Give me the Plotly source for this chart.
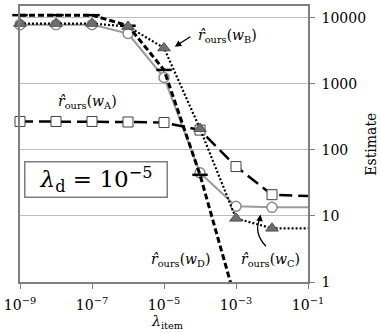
import plotly.graph_objects as go

# ---- data ----
lambda_item = [1e-9, 1e-8, 1e-7, 1e-6, 1e-5, 1e-4, 1e-3, 1e-2, 1e-1]
est_wA = [270, 270, 270, 265, 260, 200, 56, 21, 20]
est_wB = [8200, 8200, 8200, 7400, 3500, 210, 9.2, 6.5, 6.5]
est_wC = [7900, 7900, 7900, 5800, 1250, 45, 14, 13.5, 13.5]
est_wD = [11000, 11000, 11000, 7600, 1630, 42, 0.5, None, None]

x_tickvals = [1e-9, 1e-7, 1e-5, 1e-3, 1e-1]
x_ticktext = ["10<sup>−9</sup>", "10<sup>−7</sup>", "10<sup>−5</sup>", "10<sup>−3</sup>", "10<sup>−1</sup>"]
y_tickvals = [1, 10, 100, 1000, 10000]
y_ticktext = ["1", "10", "100", "1000", "10000"]

FONT = "DejaVu Serif"
W, H = 381, 333
L, R, T, B = 14, 73, 4, 51
PW, PH = W - L - R, H - T - B


def px(x):
    return (x - L) / PW


def py(y):
    return (H - B - y) / PH


fig = go.Figure()

# w_C : gray solid with open circles
fig.add_trace(go.Scatter(
    x=lambda_item, y=est_wC, mode="lines+markers",
    line=dict(color="#9a9a9a", width=2),
    marker=dict(symbol="circle", size=10, color="white",
                line=dict(color="#8c8c8c", width=1.5)),
    cliponaxis=False, showlegend=False))

# w_A : long dash with open squares
fig.add_trace(go.Scatter(
    x=lambda_item, y=est_wA, mode="lines+markers",
    line=dict(color="black", width=2.5, dash="13px,6px"),
    marker=dict(symbol="square", size=10, color="white",
                line=dict(color="#404040", width=1)),
    cliponaxis=False, showlegend=False))

# w_D : short dash with dash markers
fig.add_trace(go.Scatter(
    x=lambda_item, y=est_wD, mode="lines+markers",
    line=dict(color="black", width=3, dash="6px,3px"),
    marker=dict(symbol="line-ew", size=11, color="black",
                line=dict(color="black", width=2.5)),
    cliponaxis=False, showlegend=False, connectgaps=False))

# w_B : dotted with gray triangles
fig.add_trace(go.Scatter(
    x=lambda_item, y=est_wB, mode="lines+markers",
    line=dict(color="black", width=2.2, dash="2px,2px"),
    marker=dict(symbol="triangle-up", size=11, color="#6e6e6e",
                line=dict(color="#505050", width=1)),
    cliponaxis=False, showlegend=False))

lab_font = dict(family=FONT, size=14, color="black")


def lab(sub):
    return "<i>r̂</i><sub>ours</sub>(<i>w</i><sub>%s</sub>)" % sub


annotations = [
    dict(x=px(83), y=py(101), text=lab("A")),
    dict(x=px(226), y=py(34), text=lab("B")),
    dict(x=px(178), y=py(260), text=lab("D")),
    dict(x=px(270), y=py(260), text=lab("C")),
]
annos = []
for a in annotations:
    annos.append(dict(xref="paper", yref="paper", x=a["x"], y=a["y"], text=a["text"],
                      showarrow=False, font=lab_font, xanchor="center", yanchor="middle"))

# arrow for w_B
annos.append(dict(xref="paper", yref="paper", x=px(172), y=py(45),
                  ax=17, ay=-11, axref="pixel", ayref="pixel",
                  showarrow=True, arrowhead=2, arrowsize=1, arrowwidth=1.3,
                  arrowcolor="black", text=""))
# arrowhead for w_C curved arrow
annos.append(dict(xref="paper", yref="paper", x=px(259.5), y=py(214),
                  ax=-1, ay=7, axref="pixel", ayref="pixel",
                  showarrow=True, arrowhead=2, arrowsize=1, arrowwidth=1.3,
                  arrowcolor="black", text=""))

# lambda_d box
annos.append(dict(xref="paper", yref="paper", x=px(91.5), y=py(179),
                  text="<i>λ</i><sub>d</sub> = 10<sup>−5</sup>",
                  showarrow=False, font=dict(family=FONT, size=23, color="black"),
                  xanchor="center", yanchor="middle",
                  width=139, height=32, borderpad=1,
                  bordercolor="#7f7f7f", borderwidth=1.5, bgcolor="white"))

# axis titles
annos.append(dict(xref="paper", yref="paper", x=px(165), y=py(322),
                  text="<i>λ</i><sub>item</sub>", showarrow=False,
                  font=dict(family=FONT, size=14, color="black"),
                  xanchor="center", yanchor="middle"))
annos.append(dict(xref="paper", yref="paper", x=px(372), y=py(143),
                  text="Estimate", textangle=-90, showarrow=False,
                  font=dict(family=FONT, size=14, color="black"),
                  xanchor="center", yanchor="middle"))

shapes = [dict(type="path", xref="paper", yref="paper",
               path="M %f,%f Q %f,%f %f,%f" % (px(265), py(246), px(252), py(232), px(259), py(218)),
               line=dict(color="black", width=1.3))]

fig.update_layout(
    width=W, height=H,
    margin=dict(l=L, r=R, t=T, b=B),
    paper_bgcolor="white", plot_bgcolor="white",
    font=dict(family=FONT, size=14, color="black"),
    annotations=annos, shapes=shapes,
    xaxis=dict(type="log", range=[-9, -1], tickvals=x_tickvals, ticktext=x_ticktext,
               showgrid=False, zeroline=False, showline=True, mirror=True,
               linecolor="#808080", linewidth=1.5, ticks="outside", ticklen=5,
               tickcolor="#808080", tickfont=dict(family=FONT, size=14),
               ticklabelstandoff=4, ticklabeloverflow="allow"),
    yaxis=dict(type="log", range=[0, 4.18], side="right", tickvals=y_tickvals,
               ticktext=y_ticktext, showgrid=True, gridcolor="#bdbdbd", gridwidth=1,
               zeroline=False, showline=True, mirror=True, linecolor="#808080",
               linewidth=1.5, ticks="outside", ticklen=5, tickcolor="#808080",
               tickfont=dict(family=FONT, size=14), ticklabelstandoff=4,
               ticklabeloverflow="allow"),
)

fig.write_html("out.html")
